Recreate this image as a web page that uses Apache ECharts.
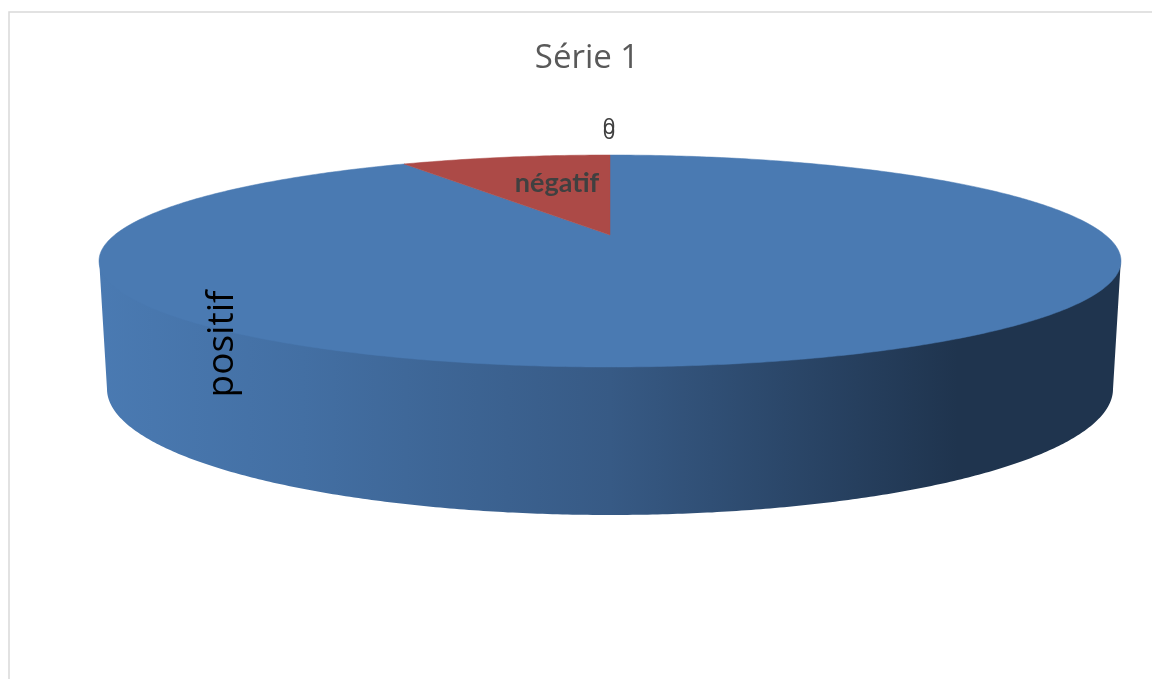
<!DOCTYPE html>
<html>
<head>
<meta charset="utf-8">
<style>html,body{margin:0;padding:0;background:#fff;overflow:hidden}#c{width:1152px;height:679px}</style>
<script src="https://cdn.jsdelivr.net/npm/echarts@6/dist/echarts.min.js"></script>
</head>
<body>
<div id="c"></div>
<script>
const titleText = 'Série 1';
const categories = ['positif', 'négatif', '', ''];
const values = [93.4, 6.6, 0, 0];
const sliceColors = ['#4a7ab2', '#ac4a47', '#9bbb59', '#8064a2'];

// Layout of the tilted disc
const topE = { cx: 610, cy: 261, rx: 511, ry: 106, apexY: 235 };
const wallTopE = { cx: 610, cy: 258, rx: 511, ry: 106 };
const botE = { cx: 610, cy: 389, rx: 503, ry: 126 };
const total = values.reduce((a, b) => a + b, 0);
const starts = values.map((_, i) => values.slice(0, i).reduce((a, b) => a + b, 0));

function pt(e, t) { return [e.cx + e.rx * Math.sin(t), e.cy - e.ry * Math.cos(t)]; }
function arc(e, a, b) {
  const n = Math.max(2, Math.ceil(Math.abs(b - a) / 0.01)), out = [];
  for (let i = 0; i <= n; i++) out.push(pt(e, a + (b - a) * i / n));
  return out;
}
const wallFill = { type: 'linear', x: 0, y: 0, x2: 1, y2: 0, colorStops: [
  { offset: 0, color: '#4a7ab2' }, { offset: 0.2, color: '#436fa3' },
  { offset: 0.5, color: '#375a85' }, { offset: 0.84, color: '#1f344e' }, { offset: 1, color: '#1f344e' }
] };

function renderSlice(params, api) {
  const i = params.dataIndex, v = api.value(1);
  const children = [];
  const a = api.value(2) / total * 2 * Math.PI, b = a + v / total * 2 * Math.PI;
  if (v > 0) {
    const lo = Math.max(a, Math.PI / 2), hi = Math.min(b, Math.PI * 1.5);
    if (hi > lo) {
      children.push({ type: 'polygon', shape: { points: arc(wallTopE, lo, hi).concat(arc(botE, hi, lo)) },
        style: { fill: wallFill } });
    }
    children.push({ type: 'polygon',
      shape: { points: [[topE.cx, topE.apexY]].concat(arc(topE, a, b)) },
      style: { fill: sliceColors[i], stroke: sliceColors[i], lineWidth: 0.5 } });
  }
  return { type: 'group', children };
}

const labelStyle = [
  { x: 222, y: 344, rotation: Math.PI / 2, fontSize: 37, fontFamily: 'Open Sans', fontWeight: 'normal', fill: '#000' },
  { x: 557, y: 183, rotation: 0, fontSize: 27, fontFamily: 'Lato', fontWeight: 'bold', fill: '#404040' },
  { x: 609, y: 128, rotation: 0, fontSize: 22, fontFamily: 'Open Sans', fontWeight: 'normal', fill: '#404040' },
  { x: 609, y: 133, rotation: 0, fontSize: 22, fontFamily: 'Open Sans', fontWeight: 'normal', fill: '#404040' }
];
function renderLabel(params, api) {
  const i = params.dataIndex, s = labelStyle[i];
  const text = values[i] === 0 ? String(values[i]) : categories[i];
  return { type: 'text', x: s.x, y: s.y, rotation: s.rotation, z2: 10,
    style: { text, fill: s.fill, fontSize: s.fontSize, fontFamily: s.fontFamily, fontWeight: s.fontWeight,
      align: 'center', verticalAlign: 'middle' } };
}

const seriesData = categories.map((c, i) => [c, values[i], starts[i]]);
const chart = echarts.init(document.getElementById('c'), null, { renderer: 'canvas' });
chart.setOption({
  animation: false,
  backgroundColor: '#fff',
  title: { text: titleText, left: 582, top: 37, textAlign: 'center',
    textStyle: { fontFamily: 'Open Sans', fontSize: 33, fontWeight: 'normal', color: '#595959' } },
  graphic: [{ type: 'rect', silent: true, shape: { x: 9, y: 12, width: 1300, height: 900 },
    style: { fill: 'transparent', stroke: '#d9d9d9', lineWidth: 1.5 } }],
  series: [
    { type: 'custom', coordinateSystem: 'none', renderItem: renderSlice, data: seriesData, silent: true, z: 2 },
    { type: 'custom', coordinateSystem: 'none', renderItem: renderLabel, data: seriesData, silent: true, z: 3 }
  ]
});
</script>
</body>
</html>
